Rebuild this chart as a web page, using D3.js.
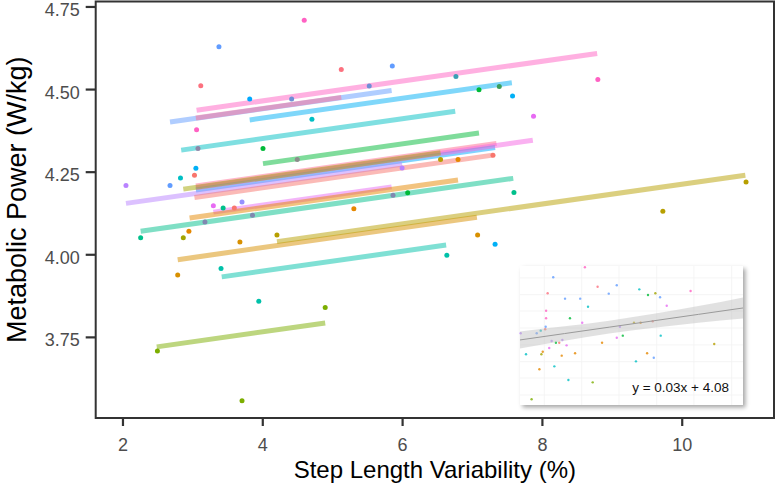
<!DOCTYPE html>
<html><head><meta charset="utf-8">
<script src="https://cdn.jsdelivr.net/npm/d3@7"></script>
<style>html,body{margin:0;padding:0;background:#fff;}svg{display:block;font-family:"Liberation Sans",Arial,sans-serif;}</style>
</head><body><svg id="c" width="779" height="496"></svg>
<script>
// ---------- data ----------
const xTicks = [2, 4, 6, 8, 10];
const yTicks = [3.75, 4.00, 4.25, 4.50, 4.75];
const xTitle = "Step Length Variability (%)";
const yTitle = "Metabolic Power (W/kg)";

// per-participant fitted lines (common slope, random intercept)
const commonSlope = 0.03;
const lineGroup     = ["pink","blue","rose","sky","teal","green2","rose","azure","pink2","purple","yolive","red","magenta","orange","mint","amber","olive","aqua","lime"];
const lineStart     = [3.06, 2.68, 3.05, 3.82, 2.84, 4.01, 3.05, 3.05, 3.05, 2.05, 2.87, 3.03, 3.30, 2.96, 2.26, 2.79, 4.21, 3.42, 2.49];
const lineEnd       = [8.79, 5.85, 5.13, 7.57, 6.76, 7.10, 7.35, 7.33, 7.87, 6.00, 6.55, 7.30, 5.85, 6.80, 7.59, 7.07, 10.91, 6.63, 4.90];
const lineIntercept = [4.344, 4.320, 4.321, 4.292, 4.230, 4.154, 4.115, 4.103, 4.109, 4.0925, 4.111, 4.081, 4.0285, 4.021, 4.002, 3.900, 3.912, 3.829, 3.645];

// observations
const pointX = [3.38,3.12,4.60,5.13,5.86,5.53,3.82,4.42,6.77,7.10,7.39,7.58,8.80,7.88,3.06,3.08,4.01,4.71,3.05,3.03,2.83,2.05,2.68,4.50,6.55,6.80,7.30,6.00,3.30,3.44,3.60,3.71,3.18,3.86,5.87,6.08,5.31,2.26,2.95,2.87,3.68,4.21,7.08,7.33,7.60,10.92,9.73,2.79,3.41,6.64,3.95,4.90,2.50,3.71];
const pointY = [4.628,4.51,4.708,4.559,4.570,4.509,4.47,4.470,4.538,4.498,4.508,4.479,4.529,4.418,4.377,4.32,4.32,4.409,4.26,4.239,4.231,4.208,4.208,4.287,4.287,4.287,4.30,4.261,4.147,4.14,4.14,4.158,4.098,4.118,4.179,4.186,4.138,4.05,4.07,4.05,4.037,4.058,4.058,4.03,4.187,4.219,4.13,3.937,3.957,3.997,3.858,3.839,3.707,3.557];
const pointGroup = ["blue","pinkred","pink","pinkred","blue","steel","azure","steel","sea","green2","dgreen","sky","pink","magenta","pink","greyviolet","green2","teal","sky","red","teal","purple","blue","grey","olive","orange","red","purple","magenta","mint","red","violet","greyblue","greyblue","greyblue","green2","orange","mint","orange","yolive","amber","olive","amber","sky","mint","olive","olive","amber","aqua","aqua","aqua","lime","lime","lime"];

// inset (overall fit), in inset units
const insetX = [0.03,0.27,0.52,0.75,0.87,0.93,0.96,1.02,1.13,1.15,1.17,1.17,1.24,1.31,1.42,1.49,1.54,1.61,1.76,1.87,1.90,2.02,2.09,2.17,2.24,2.47,2.70,2.79,2.91,3.05,3.26,3.48,3.68,3.98,4.34,4.34,4.48,4.61,5.11,5.20,5.35,5.41,5.70,5.74,5.95,6.00,6.07,6.28,6.31,6.58,7.65,8.71];
const insetY = [5.16,3.65,0.41,5.16,2.57,5.35,3.65,3.83,5.45,5.63,6.24,6.78,8.04,4.10,4.60,9.19,2.78,4.48,4.48,3.55,4.68,7.65,4.29,1.80,6.24,3.72,7.65,5.92,9.91,7.07,1.63,8.51,4.48,8.01,8.61,4.84,5.63,4.99,5.92,3.14,8.32,5.92,3.72,7.91,6.02,3.40,8.04,7.75,4.99,7.14,8.20,4.39];
const insetGroup = ["purple","teal","lime","blue","orange","teal","yolive","orange","red","blue","pink","pink","pinkred","magenta","purple","blue","teal","green2","red","orange","purple","blue","magenta","teal","green2","orange","blue","magenta","pink","teal","lime","pinkred","orange","blue","blue","magenta","purple","green2","olive","teal","teal","orange","orange","green2","red","blue","yolive","blue","teal","magenta","pink","olive"];
const insetFitX  = [0, 2, 4, 6, 8, 10];
const insetFitY  = [4.68, 5.14, 5.60, 6.06, 6.52, 6.98];
const insetFitLo = [4.07, 4.62, 5.14, 5.56, 5.92, 6.22];
const insetFitHi = [5.29, 5.66, 6.06, 6.56, 7.12, 7.74];
const insetGridX = [1.09, 2.77, 4.44, 6.13, 7.80, 9.49];
const insetGridY = [0.72, 1.94, 3.12, 4.32, 5.54, 6.76, 7.94, 9.14];
const insetLabel = "y = 0.03x + 4.08";

// ---------- styles ----------
const palette = {
  red:"#F8766D", rose:"#FF6C91", pinkred:"#FC717F", orange:"#E58700", amber:"#D89000",
  olive:"#B79F00", yolive:"#A3A500", lime:"#7CAE00", green2:"#00BA38", dgreen:"#3C9E5A",
  mint:"#00C08B", aqua:"#00C1A9", teal:"#00BFC4", sky:"#00B0F6", azure:"#00A9FF",
  blue:"#619CFF", steel:"#6F8FD6", sea:"#3A9FB5", greyblue:"#8088B0", greyviolet:"#8D86A8",
  purple:"#B983FF", violet:"#9590FF", magenta:"#E76BF3", pink:"#FF61C3", pink2:"#F564E3", grey:"#8C8C8C"
};
const color = k => palette[k];

const svg = d3.select("#c");
const P = {l:95.7, r:774, t:1.5, b:418};
const x = d3.scaleLinear().domain([1.617, 11.32]).range([P.l, P.r]);
const y = d3.scaleLinear().domain([3.5045, 4.765]).range([P.b, P.t]);

// lines
const lines = lineGroup.map((g,i)=>({g, x0:lineStart[i], x1:lineEnd[i], b:lineIntercept[i]}));
svg.append("g").selectAll("line").data(lines).join("line")
  .attr("x1", d=>x(d.x0)).attr("x2", d=>x(d.x1))
  .attr("y1", d=>y(d.b + commonSlope*d.x0)).attr("y2", d=>y(d.b + commonSlope*d.x1))
  .attr("stroke", d=>color(d.g)).attr("stroke-opacity",0.5).attr("stroke-width",5);

// points
svg.append("g").selectAll("circle").data(pointX.map((v,i)=>({x:v,y:pointY[i],g:pointGroup[i]}))).join("circle")
  .attr("cx", d=>x(d.x)).attr("cy", d=>y(d.y)).attr("r",2.5).attr("fill", d=>color(d.g));

// panel border
svg.append("rect").attr("x",P.l).attr("y",P.t).attr("width",P.r-P.l).attr("height",P.b-P.t)
  .attr("fill","none").attr("stroke","#333").attr("stroke-width",2);

// axes
const ax = svg.append("g").attr("transform",`translate(0,${P.b})`)
  .call(d3.axisBottom(x).tickValues(xTicks).tickSize(8).tickPadding(6).tickFormat(d3.format("d")));
const ay = svg.append("g").attr("transform",`translate(${P.l},0)`)
  .call(d3.axisLeft(y).tickValues(yTicks).tickSize(10).tickPadding(6).tickFormat(d3.format(".2f")));
[ax,ay].forEach(a=>{
  a.select(".domain").remove();
  a.selectAll(".tick line").attr("stroke","#333").attr("stroke-width",2.2);
  a.selectAll(".tick text").attr("fill","#4D4D4D").style("font-size","18px").style("font-family","'Liberation Sans',Arial,sans-serif");
});
ax.selectAll(".tick text").attr("dy","1.05em");
ay.selectAll(".tick text").attr("dy","0.5em");

svg.append("text").attr("x",(P.l+P.r)/2).attr("y",478).attr("text-anchor","middle")
  .style("font-size","24px").attr("fill","#000").text(xTitle);
svg.append("text").attr("transform",`translate(26,${(P.t+P.b)/2 - 10}) rotate(-90)`).attr("text-anchor","middle")
  .style("font-size","27px").attr("fill","#000").text(yTitle);

// ---------- inset ----------
const defs = svg.append("defs");
const f = defs.append("filter").attr("id","sh").attr("x","-10%").attr("y","-10%").attr("width","130%").attr("height","130%");
f.append("feDropShadow").attr("dx",2.5).attr("dy",2.5).attr("stdDeviation",2).attr("flood-color","#000").attr("flood-opacity",0.35);

const I = {l:520, r:743, t:266, b:405};
const ix = d3.scaleLinear().domain([0,10]).range([I.l, I.r]);
const iy = d3.scaleLinear().domain([0,10]).range([I.b, I.t]);
const ig = svg.append("g");
ig.append("rect").attr("x",I.l).attr("y",I.t).attr("width",I.r-I.l).attr("height",I.b-I.t)
  .attr("fill","#fff").attr("filter","url(#sh)");
ig.append("g").selectAll("line.gx").data(insetGridX).join("line")
  .attr("x1",d=>ix(d)).attr("x2",d=>ix(d)).attr("y1",I.t).attr("y2",I.b).attr("stroke","#F2F2F2").attr("stroke-width",0.8);
ig.append("g").selectAll("line.gy").data(insetGridY).join("line")
  .attr("x1",I.l).attr("x2",I.r).attr("y1",d=>iy(d)).attr("y2",d=>iy(d)).attr("stroke","#F2F2F2").attr("stroke-width",0.8);
ig.append("g").selectAll("circle").data(insetX.map((v,i)=>({x:v,y:insetY[i],g:insetGroup[i]}))).join("circle")
  .attr("cx",d=>ix(d.x)).attr("cy",d=>iy(d.y)).attr("r",1.2).attr("fill",d=>color(d.g)).attr("fill-opacity",0.8);
const band = insetFitX.map((v,i)=>({x:v,y:insetFitY[i],lo:insetFitLo[i],hi:insetFitHi[i]}));
ig.append("path").datum(band)
  .attr("d", d3.area().x(d=>ix(d.x)).y0(d=>iy(d.lo)).y1(d=>iy(d.hi)).curve(d3.curveMonotoneX))
  .attr("fill","#BDBDBD").attr("fill-opacity",0.45);
ig.append("path").datum(band)
  .attr("d", d3.line().x(d=>ix(d.x)).y(d=>iy(d.y)))
  .attr("fill","none").attr("stroke","#9A9A9A").attr("stroke-width",1);
ig.append("text").attr("x",729).attr("y",392).attr("text-anchor","end")
  .style("font-size","13.5px").attr("fill","#111").text(insetLabel);
</script></body></html>
